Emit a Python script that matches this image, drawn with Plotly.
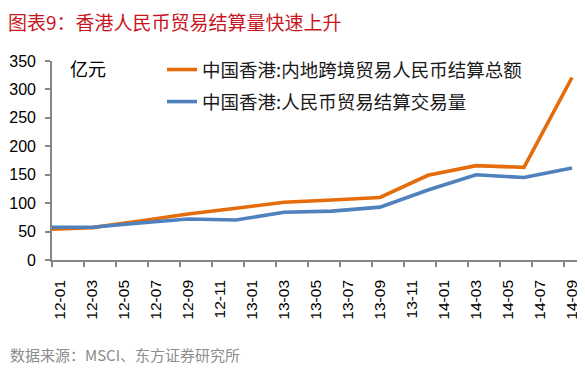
import plotly.graph_objects as go

# ---- data ----
dates = ["2011-12", "2012-03", "2012-06", "2012-09", "2012-12", "2013-03",
         "2013-06", "2013-09", "2013-12", "2014-03", "2014-06", "2014-09"]
total_settlement = [53.4, 57, 68.5, 81, 91, 101.5, 105.5, 110, 149, 166, 163, 321]   # 内地跨境贸易人民币结算总额
hk_settlement = [57.5, 57.5, 65, 72, 70.3, 84, 86, 93, 123, 150, 145, 162]            # 人民币贸易结算交易量
tick_labels = ["12-01", "12-03", "12-05", "12-07", "12-09", "12-11", "13-01", "13-03", "13-05",
               "13-07", "13-09", "13-11", "14-01", "14-03", "14-05", "14-07", "14-09"]
series_names = ["中国香港:内地跨境贸易人民币结算总额", "中国香港:人民币贸易结算交易量"]
title_text = "图表9：香港人民币贸易结算量快速上升"
unit_text = "亿元"
source_text = "数据来源：MSCI、东方证券研究所"


def month_index(s):
    """months since 2012-01 (date strings 'YYYY-MM' or 'YY-MM')."""
    y, m = s.split("-")
    y = int(y)
    if y < 100:
        y += 2000
    return (y - 2012) * 12 + int(m) - 1


x = [month_index(d) for d in dates]
tick_pos = [month_index(t) for t in tick_labels]
boundary_pos = [p - 0.5 for p in tick_pos]

ORANGE = "#E46C0A"
BLUE = "#4F81BD"
AXIS = "#868686"
CJK = "Noto Sans CJK SC"

# the page body adds an 8px margin, so the figure is 8px smaller than the window
W, H = 577, 361
L, R, T, B = 44, 5, 53, 109
PW, PH = W - L - R, H - T - B


def px_x(px):   # figure pixel -> paper x
    return (px - L) / PW


def px_y(py):   # figure pixel -> paper y
    return (H - B - py) / PH


fig = go.Figure()
fig.add_trace(go.Scatter(x=x, y=total_settlement, mode="lines", name=series_names[0],
                         line=dict(color=ORANGE, width=3.6), legendgroup="a"))
fig.add_trace(go.Scatter(x=x, y=hk_settlement, mode="lines", name=series_names[1],
                         line=dict(color=BLUE, width=3.6), legendgroup="b"))

fig.update_layout(
    width=W, height=H,
    margin=dict(l=L, r=R, t=T, b=B),
    paper_bgcolor="white", plot_bgcolor="white",
    font=dict(family="Liberation Sans, Arial", color="black"),
    showlegend=True,
    legend=dict(x=px_x(154), xanchor="left", y=px_y(43), yanchor="top",
                font=dict(family=CJK, size=18.5, color="#1a1a1a"),
                bgcolor="rgba(0,0,0,0)", tracegroupgap=5, traceorder="grouped"),
    title=dict(text=title_text, x=0.0, xanchor="left", xref="container",
               y=1 - 15.5 / H, yanchor="middle", yref="container", pad=dict(l=0),
               font=dict(family=CJK, size=19, color="#C8161E")),
)

fig.update_xaxes(
    range=[-0.5, 32.5], showgrid=False, zeroline=False, automargin=False,
    showline=True, linecolor=AXIS, linewidth=1.6,
    tickmode="array", tickvals=tick_pos, ticktext=tick_labels, ticks="",
    tickangle=-90, tickfont=dict(size=15.5, color="black"), ticklabelstandoff=12,
    minor=dict(tickmode="array", tickvals=boundary_pos, ticks="outside",
               ticklen=5, tickwidth=1.6, tickcolor=AXIS),
)
fig.update_yaxes(
    range=[0, 350], dtick=50, tick0=0, showgrid=False, zeroline=False, automargin=False,
    showline=True, linecolor=AXIS, linewidth=1.6,
    ticks="outside", ticklen=5, tickwidth=1.6, tickcolor=AXIS,
    tickfont=dict(size=16, color="black"), ticklabelstandoff=6,
)

fig.add_annotation(text=unit_text, xref="paper", yref="paper",
                   x=px_x(60), y=px_y(60), xanchor="left", yanchor="middle",
                   showarrow=False, font=dict(family=CJK, size=18, color="black"))
fig.add_annotation(text=source_text, xref="paper", yref="paper",
                   x=px_x(0), y=px_y(346), xanchor="left", yanchor="middle",
                   showarrow=False, font=dict(family=CJK, size=15, color="#8c8c8c"))

fig.write_html("out.html")
